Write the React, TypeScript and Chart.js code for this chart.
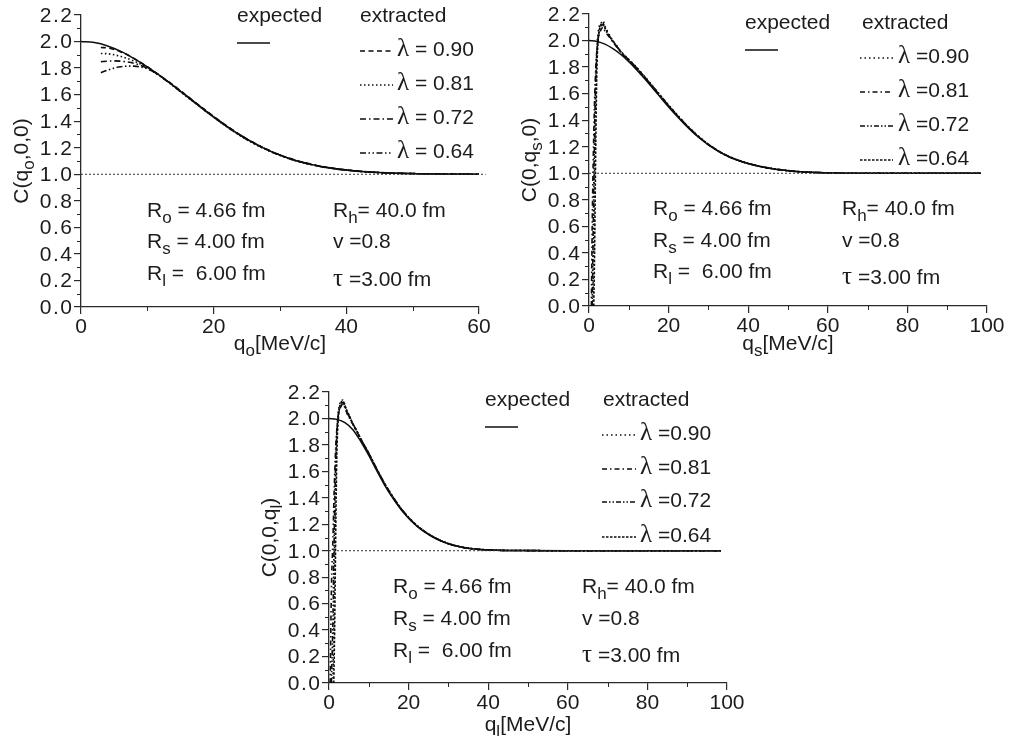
import React, { useEffect, useRef } from 'react';
import { Chart, registerables } from 'chart.js';
Chart.register(...registerables);

const FONT = '"Liberation Sans", Arial, sans-serif';
const SERIF = '"Liberation Serif", "DejaVu Serif", serif';
const INK = '#1c1c1c';
const LINE = '#0d0d0d';
const AXIS = '#2a2a2a';

// ---------------- Panel 1 : C(q_o,0,0) ----------------
const qOutExp = [0, 2, 4, 6, 8, 10, 12, 14, 16, 18, 20, 22, 24, 26, 28, 30, 32, 34, 36, 38, 40, 42, 44, 46, 48, 50, 52, 54, 56, 58, 60, 61];
const cOutExp = [2.000, 1.992, 1.967, 1.926, 1.872, 1.810, 1.740, 1.664, 1.586, 1.508, 1.432, 1.360, 1.294, 1.236, 1.186, 1.144, 1.109, 1.082, 1.060, 1.044, 1.032, 1.022, 1.015, 1.010, 1.007, 1.005, 1.003, 1.002, 1.001, 1.001, 1.000, 1.000];
const qOutExt = [3, 4, 5, 6, 7, 8, 9, 10, 11, 12, 14, 16, 18, 20, 22, 24, 26, 28, 30, 32, 34, 36, 38, 40, 42, 44, 46, 48, 50, 52, 54, 56, 58, 60, 61];
const cOut090 = [1.955, 1.952, 1.940, 1.922, 1.900, 1.872, 1.842, 1.810, 1.776, 1.740, 1.668, 1.590, 1.512, 1.436, 1.364, 1.297, 1.239, 1.188, 1.146, 1.111, 1.084, 1.062, 1.046, 1.033, 1.023, 1.016, 1.011, 1.008, 1.005, 1.003, 1.002, 1.001, 1.001, 1.000, 1.000];
const cOut081 = [1.910, 1.908, 1.900, 1.888, 1.872, 1.852, 1.830, 1.802, 1.772, 1.738, 1.661, 1.583, 1.505, 1.429, 1.357, 1.291, 1.233, 1.184, 1.142, 1.107, 1.080, 1.059, 1.043, 1.031, 1.022, 1.015, 1.010, 1.007, 1.005, 1.003, 1.002, 1.001, 1.001, 1.000, 1.000];
const cOut072 = [1.848, 1.852, 1.854, 1.852, 1.846, 1.836, 1.820, 1.800, 1.772, 1.738, 1.666, 1.588, 1.510, 1.434, 1.362, 1.296, 1.238, 1.187, 1.145, 1.110, 1.083, 1.061, 1.045, 1.032, 1.022, 1.015, 1.010, 1.007, 1.005, 1.003, 1.002, 1.001, 1.001, 1.000, 1.000];
const cOut064 = [1.765, 1.785, 1.800, 1.810, 1.815, 1.815, 1.808, 1.795, 1.770, 1.738, 1.662, 1.584, 1.506, 1.430, 1.358, 1.292, 1.234, 1.185, 1.143, 1.108, 1.081, 1.059, 1.043, 1.031, 1.021, 1.015, 1.010, 1.007, 1.005, 1.003, 1.002, 1.001, 1.001, 1.000, 1.000];
const qOutBase = [0, 61];
const cOutBase = [1, 1];

// ---------------- Panel 2 : C(0,q_s,0) ----------------
const qSideExp = [0, 2, 4, 6, 8, 10, 12, 14, 16, 18, 20, 22, 24, 26, 28, 30, 32, 34, 36, 38, 40, 42, 44, 46, 48, 50, 52, 54, 56, 58, 60, 64, 70, 80, 90, 98.5];
const cSideExp = [2.000, 1.993, 1.973, 1.939, 1.895, 1.841, 1.779, 1.712, 1.641, 1.570, 1.500, 1.433, 1.370, 1.312, 1.260, 1.214, 1.175, 1.141, 1.112, 1.091, 1.073, 1.058, 1.045, 1.034, 1.026, 1.019, 1.014, 1.010, 1.007, 1.005, 1.003, 1.001, 1.000, 1.000, 1.000, 1.000];
const qSideExt = [0.6, 0.8, 1.0, 1.2, 1.4, 1.6, 1.8, 2.0, 2.3, 2.6, 3.0, 3.5, 4.0, 4.5, 5, 6, 7, 8, 10, 12, 14, 16, 18, 20, 22, 24, 26, 28, 30, 34, 40, 50, 60, 70, 80, 90, 98.5];
const cSide090 = [null, null, 0.00, 0.50, 1.00, 1.45, 1.75, 1.95, 2.06, 2.11, 2.13, 2.15, 2.11, 2.08, 2.05, 2.00, 1.96, 1.92, 1.858, 1.797, 1.729, 1.657, 1.585, 1.514, 1.446, 1.381, 1.321, 1.267, 1.219, 1.144, 1.074, 1.020, 1.003, 1.000, 1.000, 1.000, 1.000];
const cSide081 = [0.00, 0.60, 1.00, 1.30, 1.55, 1.72, 1.85, 1.93, 2.01, 2.05, 2.08, 2.10, 2.07, 2.05, 2.03, 1.99, 1.95, 1.91, 1.852, 1.790, 1.722, 1.651, 1.579, 1.508, 1.440, 1.375, 1.315, 1.263, 1.216, 1.142, 1.073, 1.019, 1.003, 1.000, 1.000, 1.000, 1.000];
const cSide072 = [null, 0.00, 0.45, 0.90, 1.30, 1.60, 1.80, 1.92, 2.02, 2.07, 2.11, 2.12, 2.09, 2.06, 2.04, 1.995, 1.955, 1.915, 1.855, 1.794, 1.726, 1.655, 1.583, 1.512, 1.444, 1.379, 1.319, 1.265, 1.218, 1.143, 1.074, 1.020, 1.003, 1.000, 1.000, 1.000, 1.000];
const cSide064 = [null, null, null, 0.00, 0.40, 0.95, 1.45, 1.80, 2.00, 2.08, 2.12, 2.13, 2.10, 2.07, 2.04, 1.995, 1.955, 1.915, 1.853, 1.791, 1.723, 1.652, 1.580, 1.509, 1.441, 1.376, 1.316, 1.263, 1.216, 1.142, 1.073, 1.019, 1.003, 1.000, 1.000, 1.000, 1.000];
const qSideBase = [0, 98.5];
const cSideBase = [1, 1];

// ---------------- Panel 3 : C(0,0,q_l) ----------------
const qLongExp = [0, 2, 4, 6, 8, 10, 12, 14, 16, 18, 20, 22, 24, 26, 28, 30, 32, 34, 36, 38, 40, 45, 50, 60, 70, 80, 90, 98.5];
const cLongExp = [2.000, 1.993, 1.968, 1.915, 1.825, 1.720, 1.605, 1.495, 1.400, 1.315, 1.245, 1.188, 1.142, 1.105, 1.075, 1.052, 1.035, 1.023, 1.015, 1.009, 1.006, 1.002, 1.001, 1.000, 1.000, 1.000, 1.000, 1.000];
const qLongExt = [0.3, 0.6, 1.0, 1.2, 1.4, 1.6, 1.8, 2.0, 2.3, 2.6, 3.0, 3.5, 4.0, 4.5, 5, 6, 7, 8, 10, 12, 14, 16, 18, 20, 22, 24, 26, 28, 30, 34, 40, 50, 60, 70, 80, 90, 98.5];
const cLong090 = [null, null, 0.00, 0.45, 0.95, 1.40, 1.72, 1.92, 2.04, 2.10, 2.13, 2.14, 2.10, 2.05, 2.02, 1.96, 1.905, 1.845, 1.738, 1.620, 1.508, 1.411, 1.325, 1.253, 1.194, 1.147, 1.109, 1.078, 1.054, 1.024, 1.006, 1.001, 1.000, 1.000, 1.000, 1.000, 1.000];
const cLong081 = [0.00, 0.70, 1.10, 1.35, 1.55, 1.72, 1.84, 1.93, 2.01, 2.06, 2.09, 2.11, 2.08, 2.04, 2.01, 1.955, 1.900, 1.842, 1.733, 1.615, 1.503, 1.406, 1.320, 1.249, 1.191, 1.145, 1.107, 1.077, 1.053, 1.023, 1.006, 1.001, 1.000, 1.000, 1.000, 1.000, 1.000];
const cLong072 = [null, 0.00, 0.50, 0.90, 1.28, 1.58, 1.78, 1.90, 2.02, 2.08, 2.11, 2.12, 2.09, 2.05, 2.02, 1.958, 1.903, 1.844, 1.736, 1.618, 1.506, 1.409, 1.323, 1.251, 1.193, 1.146, 1.108, 1.078, 1.054, 1.024, 1.006, 1.001, 1.000, 1.000, 1.000, 1.000, 1.000];
const cLong064 = [null, null, null, 0.00, 0.38, 0.90, 1.40, 1.76, 1.98, 2.07, 2.12, 2.13, 2.10, 2.06, 2.03, 1.960, 1.905, 1.845, 1.735, 1.617, 1.505, 1.408, 1.322, 1.250, 1.192, 1.146, 1.108, 1.077, 1.053, 1.023, 1.006, 1.001, 1.000, 1.000, 1.000, 1.000, 1.000];
const qLongBase = [0, 98.5];
const cLongBase = [1, 1];

// ---------------- labels ----------------
const lambdaValues = ['0.90', '0.81', '0.72', '0.64'];
const yTicksMajorStep = 0.2;
const yMinorTicks = [0.1, 0.3, 0.5, 0.7, 0.9, 1.1, 1.3, 1.5, 1.7, 1.9, 2.1];
const xMinorTicksShort = [10, 30, 50];
const xMinorTicksLong = [10, 30, 50, 70, 90];

type Seg = [string, 'n' | 's' | 'g'];

const paramsLeft: Seg[][] = [
  [['R', 'n'], ['o', 's'], [' = 4.66 fm', 'n']],
  [['R', 'n'], ['s', 's'], [' = 4.00 fm', 'n']],
  [['R', 'n'], ['l', 's'], [' =  6.00 fm', 'n']],
];
const paramsRight: Seg[][] = [
  [['R', 'n'], ['h', 's'], ['= 40.0 fm', 'n']],
  [['v =0.8', 'n']],
  [['τ', 'g'], [' =3.00 fm', 'n']],
];

const DASH1 = [[5, 3.5], [1.5, 2.5], [6, 3, 1.5, 3], [6, 2.5, 1.5, 2.5, 1.5, 2.5]];
const DASH2 = [[1.5, 3], [5, 3, 1.5, 3], [5, 2, 1.5, 2, 1.5, 2], [2.5, 1.5]];

interface Panel {
  box: { left: number; top: number; w: number; h: number };
  pad: { top: number; right: number };
  yWidth: number;
  xHeight: number;
  xMax: number;
  xMinor: number[];
  exp: [number[], number[]];
  ext: [number[], (number | null)[]][];
  base: [number[], number[]];
  dashes: number[][];
  xTitle: Seg[];
  xTitleOff: number;
  yTitle: Seg[];
  lambdaSep: string;
  legend: { expX: number; expY: number; lineY: number; extX: number; rows: number[]; sx0: number; sx1: number; lx: number };
  params: { lx: number; rx: number; ly: number[]; ry: number[] };
}

const PANELS: Panel[] = [
  {
    box: { left: 0, top: 0, w: 500, h: 370 },
    pad: { top: 15, right: 21 },
    yWidth: 81,
    xHeight: 63,
    xMax: 60,
    xMinor: xMinorTicksShort,
    exp: [qOutExp, cOutExp],
    ext: [[qOutExt, cOut090], [qOutExt, cOut081], [qOutExt, cOut072], [qOutExt, cOut064]],
    base: [qOutBase, cOutBase],
    dashes: DASH1,
    xTitle: [['q', 'n'], ['o', 's'], ['[MeV/c]', 'n']],
    xTitleOff: 43,
    yTitle: [['C(q', 'n'], ['o', 's'], [',0,0)', 'n']],
    lambdaSep: ' = ',
    legend: { expX: 237, expY: 22, lineY: 43, extX: 360, rows: [56, 90, 124, 158], sx0: 360, sx1: 393, lx: 397 },
    params: { lx: 147, rx: 333, ly: [217, 248, 280], ry: [217, 248, 286] },
  },
  {
    box: { left: 500, top: 0, w: 509, h: 370 },
    pad: { top: 14, right: 22 },
    yWidth: 89,
    xHeight: 64,
    xMax: 100,
    xMinor: xMinorTicksLong,
    exp: [qSideExp, cSideExp],
    ext: [[qSideExt, cSide090], [qSideExt, cSide081], [qSideExt, cSide072], [qSideExt, cSide064]],
    base: [qSideBase, cSideBase],
    dashes: DASH2,
    xTitle: [['q', 'n'], ['s', 's'], ['[MeV/c]', 'n']],
    xTitleOff: 44,
    yTitle: [['C(0,q', 'n'], ['s', 's'], [',0)', 'n']],
    lambdaSep: ' =',
    legend: { expX: 245, expY: 29, lineY: 50, extX: 362, rows: [63, 97, 131, 165], sx0: 360, sx1: 393, lx: 398 },
    params: { lx: 153, rx: 342, ly: [215, 247, 278], ry: [215, 247, 284] },
  },
  {
    box: { left: 240, top: 370, w: 520, h: 366 },
    pad: { top: 22, right: 33 },
    yWidth: 89,
    xHeight: 53,
    xMax: 100,
    xMinor: xMinorTicksLong,
    exp: [qLongExp, cLongExp],
    ext: [[qLongExt, cLong090], [qLongExt, cLong081], [qLongExt, cLong072], [qLongExt, cLong064]],
    base: [qLongBase, cLongBase],
    dashes: DASH2,
    xTitle: [['q', 'n'], ['l', 's'], ['[MeV/c]', 'n']],
    xTitleOff: 48,
    yTitle: [['C(0,0,q', 'n'], ['l', 's'], [')', 'n']],
    lambdaSep: ' =',
    legend: { expX: 245, expY: 36, lineY: 57, extX: 363, rows: [70, 104, 137, 172], sx0: 362, sx1: 396, lx: 400 },
    params: { lx: 153, rx: 342, ly: [223, 255, 287], ry: [223, 255, 292] },
  },
];

function segFont(k: string) {
  if (k === 's') return `17px ${FONT}`;
  if (k === 'g') return `25px ${SERIF}`;
  return `21px ${FONT}`;
}

function drawRich(ctx: CanvasRenderingContext2D, segs: Seg[], x: number, y: number, align: 'left' | 'center') {
  let total = 0;
  for (const [t, k] of segs) {
    ctx.font = segFont(k);
    total += ctx.measureText(t).width;
  }
  let cx = align === 'center' ? x - total / 2 : x;
  ctx.textAlign = 'left';
  ctx.textBaseline = 'alphabetic';
  for (const [t, k] of segs) {
    ctx.font = segFont(k);
    ctx.fillText(t, cx, k === 's' ? y + 6 : y);
    cx += ctx.measureText(t).width;
  }
}

function xy(xs: number[], ys: (number | null)[]) {
  return xs.map((x, i) => ({ x, y: ys[i] }));
}

function makeDecor(p: Panel) {
  return {
    id: 'decor',
    afterDraw(chart: any) {
      const ctx: CanvasRenderingContext2D = chart.ctx;
      const a = chart.chartArea;
      const xs = chart.scales.x;
      const ys = chart.scales.y;
      ctx.save();
      // minor ticks
      ctx.strokeStyle = AXIS;
      ctx.lineWidth = 1;
      ctx.beginPath();
      for (const v of p.xMinor) {
        const px = Math.round(xs.getPixelForValue(v)) + 0.5;
        ctx.moveTo(px, a.bottom);
        ctx.lineTo(px, a.bottom + 4);
      }
      for (const v of yMinorTicks) {
        const py = Math.round(ys.getPixelForValue(v)) + 0.5;
        ctx.moveTo(a.left, py);
        ctx.lineTo(a.left - 4, py);
      }
      ctx.stroke();

      ctx.fillStyle = INK;
      // y tick labels (wider spacing as in the original)
      ctx.font = `21px ${FONT}`;
      ctx.textAlign = 'right';
      ctx.textBaseline = 'middle';
      (ctx as any).letterSpacing = '1.5px';
      for (const t of ys.ticks) {
        const py = ys.getPixelForValue(t.value);
        ctx.fillText(Number(t.value).toFixed(1), a.left - 7.5, py + 1);
      }
      (ctx as any).letterSpacing = '0px';

      // axis titles
      drawRich(ctx, p.xTitle, (a.left + a.right) / 2, a.bottom + p.xTitleOff, 'center');
      ctx.save();
      ctx.translate(a.left - 53, (a.top + a.bottom) / 2);
      ctx.rotate(-Math.PI / 2);
      drawRich(ctx, p.yTitle, 0, 0, 'center');
      ctx.restore();

      // legend
      const L = p.legend;
      drawRich(ctx, [['expected', 'n']], L.expX, L.expY, 'left');
      drawRich(ctx, [['extracted', 'n']], L.extX, L.expY, 'left');
      ctx.strokeStyle = LINE;
      ctx.lineWidth = 1.4;
      ctx.setLineDash([]);
      ctx.beginPath();
      ctx.moveTo(L.expX, L.lineY);
      ctx.lineTo(L.expX + 33, L.lineY);
      ctx.stroke();
      lambdaValues.forEach((lv, i) => {
        const by = L.rows[i];
        ctx.setLineDash(p.dashes[i]);
        ctx.beginPath();
        ctx.moveTo(L.sx0, by - 5);
        ctx.lineTo(L.sx1, by - 5);
        ctx.stroke();
        ctx.setLineDash([]);
        drawRich(ctx, [['λ', 'g'], [p.lambdaSep + lv, 'n']], L.lx, by, 'left');
      });

      // parameters
      const P = p.params;
      paramsLeft.forEach((s, i) => drawRich(ctx, s, P.lx, P.ly[i], 'left'));
      paramsRight.forEach((s, i) => drawRich(ctx, s, P.rx, P.ry[i], 'left'));
      ctx.restore();
    },
  };
}

function buildConfig(p: Panel): any {
  const common = { pointRadius: 0, fill: false, clip: false, cubicInterpolationMode: 'monotone', borderColor: LINE, spanGaps: false };
  const datasets: any[] = [
    { ...common, label: 'baseline', data: xy(p.base[0], p.base[1]), borderWidth: 1, borderDash: [2, 2], cubicInterpolationMode: 'default', borderColor: '#333' },
    ...p.ext.map((e, i) => ({ ...common, label: 'λ=' + lambdaValues[i], data: xy(e[0], e[1]), borderWidth: 1.6, borderDash: p.dashes[i] })),
    { ...common, label: 'expected', data: xy(p.exp[0], p.exp[1]), borderWidth: 1.5 },
  ];
  const tickFont = { family: FONT, size: 21 };
  return {
    type: 'line',
    data: { datasets },
    options: {
      animation: false,
      responsive: false,
      devicePixelRatio: 1,
      layout: { padding: { left: 0, right: p.pad.right, top: p.pad.top, bottom: 0 } },
      plugins: { legend: { display: false }, tooltip: { enabled: false }, title: { display: false } },
      events: [],
      scales: {
        x: {
          type: 'linear',
          min: 0,
          max: p.xMax,
          afterFit: (s: any) => { s.height = p.xHeight; },
          grid: { display: true, drawOnChartArea: false, drawTicks: true, tickLength: 7, color: AXIS, lineWidth: 1.2 },
          border: { display: true, color: AXIS, width: 1.3 },
          ticks: { stepSize: 20, font: tickFont, color: INK, padding: 1, maxRotation: 0, autoSkip: false, callback: (v: any) => String(v) },
        },
        y: {
          type: 'linear',
          min: 0,
          max: 2.2,
          afterFit: (s: any) => { s.width = p.yWidth; },
          grid: { display: true, drawOnChartArea: false, drawTicks: true, tickLength: 7, color: AXIS, lineWidth: 1.2 },
          border: { display: true, color: AXIS, width: 1.3 },
          ticks: { display: false, stepSize: yTicksMajorStep, autoSkip: false },
        },
      },
    },
    plugins: [makeDecor(p)],
  };
}

export default function App() {
  const r0 = useRef<HTMLCanvasElement>(null);
  const r1 = useRef<HTMLCanvasElement>(null);
  const r2 = useRef<HTMLCanvasElement>(null);
  const refs = [r0, r1, r2];
  useEffect(() => {
    const charts = PANELS.map((p, i) => new Chart(refs[i].current as HTMLCanvasElement, buildConfig(p)));
    return () => charts.forEach((c) => c.destroy());
  }, []);
  return (
    <div style={{ position: 'absolute', left: 0, top: 0, width: 1009, height: 736, background: '#fff' }}>
      {PANELS.map((p, i) => (
        <canvas
          key={i}
          ref={refs[i]}
          width={p.box.w}
          height={p.box.h}
          style={{ position: 'absolute', left: p.box.left, top: p.box.top, width: p.box.w, height: p.box.h, display: 'block' }}
        />
      ))}
    </div>
  );
}
